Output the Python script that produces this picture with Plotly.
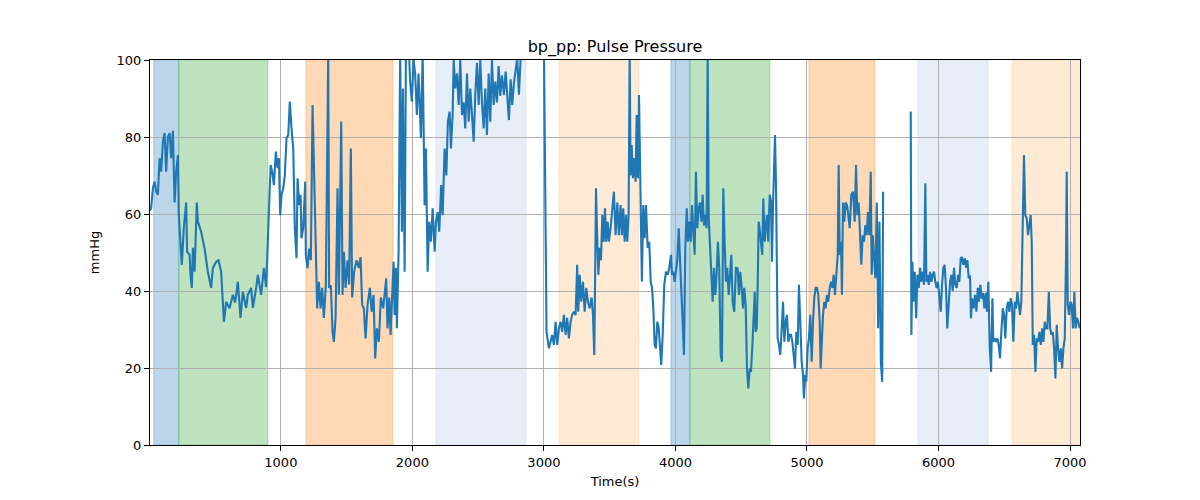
import plotly.graph_objects as go

# ---- data ----
time_s = [5, 14, 27, 40, 52, 65, 78, 90, 103, 116, 128, 141, 154, 166, 179, 192, 204, 217, 224, 234, 247, 262, 280, 287,
          306, 313, 323, 331, 344, 361, 369, 394, 420, 445, 470, 483, 508, 526, 546, 567, 584, 610, 635, 652, 673, 693,
          711, 736, 749, 774, 787, 812, 825, 850, 871, 888,
          899, 909, 922, 934, 947, 962, 975, 985, 995, 1005, 1018, 1030, 1043, 1056, 1068, 1081, 1094, 1106, 1119, 1127,
          1139, 1150, 1157, 1170, 1185, 1190, 1203, 1215, 1228, 1241, 1253, 1264, 1276, 1289, 1302, 1314, 1327, 1342,
          1360, 1367, 1380, 1393, 1403, 1416, 1431, 1441, 1459, 1469, 1479, 1492, 1507, 1519, 1532, 1542, 1557, 1576,
          1593, 1606, 1618, 1631, 1644, 1659, 1677, 1690, 1705, 1717, 1730, 1745, 1760, 1778, 1791,
          1801, 1811, 1824, 1834, 1844, 1857, 1865, 1875, 1882, 1890, 1895, 1907, 1920, 1928, 1941, 1951, 1971, 1983,
          1996, 2009, 2021, 2034, 2047, 2065, 2078, 2093, 2103, 2116, 2128, 2141, 2154, 2169, 2179, 2192, 2204, 2219,
          2230, 2245, 2258, 2270, 2283, 2293, 2306, 2314, 2326, 2339, 2352, 2364, 2377, 2390, 2402, 2415, 2428, 2440,
          2453, 2466, 2478, 2491, 2504, 2516, 2529, 2542, 2554, 2567, 2580, 2592, 2605, 2618, 2630, 2643, 2656, 2668,
          2681, 2696, 2709, 2721, 2734, 2747, 2759, 2772, 2785, 2797, 2810, 2823,
          2900,
          3000, 3005, 3020, 3038, 3051, 3063, 3076, 3089, 3101, 3114, 3127, 3139, 3152, 3165, 3177, 3190, 3203, 3215,
          3228, 3241, 3253, 3261, 3272, 3284, 3297, 3310, 3322, 3335, 3348, 3363, 3373, 3383, 3391, 3396, 3406, 3414,
          3424, 3434, 3444, 3455, 3464, 3474, 3485, 3494, 3507, 3520, 3532, 3545, 3558, 3570,
          3583, 3593, 3603, 3614, 3624, 3634, 3644, 3652, 3659, 3667, 3677, 3687, 3697, 3705, 3715, 3723, 3730, 3740,
          3745, 3755, 3766, 3776, 3789, 3801, 3812, 3822, 3832, 3842, 3852, 3862, 3873, 3882, 3892, 3903, 3915, 3928,
          3941, 3953, 3966, 3974, 3984, 3994, 4004, 4014, 4025, 4034, 4044, 4055, 4065, 4075, 4086, 4095, 4105, 4116,
          4126, 4136, 4146, 4156, 4166, 4177, 4187, 4197, 4207, 4217, 4227, 4237, 4245, 4253, 4262, 4272, 4283, 4293,
          4303, 4313, 4323, 4333, 4344, 4354, 4364, 4374, 4384, 4394, 4405, 4415, 4425, 4435, 4447, 4460,
          4473, 4483, 4493, 4504, 4514, 4523, 4534, 4544, 4554, 4565, 4574, 4584, 4595, 4603, 4610, 4618, 4625, 4633,
          4640, 4650, 4660, 4668, 4679, 4686, 4696, 4706, 4717, 4727, 4734, 4742, 4749, 4757, 4765, 4772, 4777, 4787,
          4797, 4808, 4818, 4828, 4838, 4848, 4858, 4869, 4879, 4889, 4899, 4909, 4919, 4930, 4939, 4949, 4960, 4970,
          4977, 4987, 4995, 5005, 5015, 5025, 5036, 5046, 5056, 5066, 5076, 5086, 5097, 5104, 5114, 5122, 5132, 5142,
          5152, 5162, 5173, 5183, 5193, 5203, 5213, 5223, 5234, 5241, 5249, 5259, 5266, 5274, 5284, 5294, 5304, 5314,
          5325, 5337, 5350,
          5363, 5373, 5383, 5393, 5403, 5413, 5424, 5434, 5444, 5454, 5464, 5474, 5485, 5492, 5500, 5510, 5520, 5531,
          5541, 5551, 5562, 5572, 5579,
          5650,
          5789, 5794, 5802, 5809, 5820, 5830, 5840, 5850, 5860, 5870, 5880, 5890, 5900, 5908, 5916, 5926, 5936, 5946,
          5956, 5966, 5976, 5986, 5996, 6007, 6017, 6027, 6037, 6047, 6057, 6067, 6078, 6088, 6098, 6108, 6118, 6128,
          6139, 6149, 6159, 6169, 6179, 6189, 6200, 6210, 6220, 6230, 6240,
          6247, 6256, 6267, 6278, 6288, 6299, 6308, 6318, 6329, 6339, 6349, 6360, 6369, 6379, 6390, 6400, 6410, 6417,
          6428, 6438, 6448, 6458, 6468, 6478, 6489, 6499, 6508, 6519, 6529, 6539, 6549, 6559, 6569, 6580, 6590, 6600,
          6610, 6620, 6630, 6641, 6650, 6660, 6671, 6681, 6691, 6701, 6709, 6717, 6727, 6737, 6747, 6757, 6767, 6778,
          6788, 6798, 6808, 6818, 6828, 6839, 6849, 6859, 6869, 6879, 6889, 6899, 6909, 6919, 6930, 6940, 6950, 6960,
          6970, 6975, 6983, 6993, 7003, 7013, 7023, 7033, 7043, 7053, 7063, 7074]

pulse_pressure = [61, 61.6, 66.7, 68.4, 65.8, 65, 74.5, 71, 78.8, 81, 71, 80, 81, 74.5, 81.6, 63, 71, 75.3, 59.7, 54.5, 46.8, 56.4, 63, 50.2,
          49.4, 44.2, 40.8, 51.2, 45, 63, 58, 55.4, 51, 45, 40.8, 46, 47.6, 48, 45, 32, 37.2, 35.5, 39, 37, 42.4, 33,
          39.8, 35.6, 39, 40.8, 35.6, 40.8, 44.2, 39, 46, 41,
          52, 65, 72.7, 71, 67.5, 76.2, 71.9, 74.5, 59.7, 65, 66.7, 70, 79.7, 80.5, 89.2, 82.2, 77, 56.3, 48.5, 69.3,
          62.3, 65, 53.7, 56.3, 68.4, 49.4, 45.9, 51, 48, 88.3, 70, 58, 35.5, 42.4, 35.5, 40.8, 33, 41.7,
          101, 40.8, 41.5, 29.4, 26.8, 33, 66.7, 39, 84, 39, 50.2, 40.8, 48, 41.7, 77, 38.3, 45, 48,
          46, 48.8, 36.4, 35.5, 27.7, 36.4, 40.8, 34.6, 39, 22.5, 30.3, 26.8, 38.3, 35.5, 40.8,
          43.3, 30.3, 38.3, 28.6, 38.3, 47.6, 33.8, 46, 30.3, 45, 50.2, 101, 55.4, 92.6, 45, 103, 105, 94.4,
          89.2, 100, 96.5, 85.7, 96.5, 79.7, 102, 62.3, 77, 45, 58, 52.8, 61.5, 50.2, 58, 60.5, 55.4, 67.5,
          59.7, 77, 70, 84, 86.6, 77, 85.7, 100, 92.6, 96.5, 88.3, 100, 85.7, 89, 82.2, 96.5, 84, 92.6,
          84, 78.8, 90.9, 99.3, 88.3, 100, 89, 82.2, 92.6, 80.5, 96.5, 84, 100, 88.3, 94.4, 89, 98.4, 90.7,
          96, 90.9, 97, 92, 84.4, 95, 88.3, 94, 98, 100.5, 91, 100.5,
          None,
          104, 78, 29.4, 25.1, 26.8, 28.6, 26, 32, 26, 30.3, 32, 29.4, 33.8, 28.6, 33, 27.7, 32, 33.8,
          34.6, 33.8, 46.8, 34.6, 44.2, 37.2, 42.4, 34.6, 40.8, 37.2, 35.5, 38.3, 33.8, 23.4, 49.4, 66.7, 52.8, 44.2,
          51.2, 48, 59.7, 52.8, 61.5, 52.8, 58, 52.8, 56.3, 61.5, 65.8, 54.5, 63, 54.5,
          62.3, 54.5, 61.5, 52.8, 59.7, 52.8, 59.7, 102, 70, 77.9, 69.3, 74.5, 68.4, 85.7, 69.3, 90.9, 68.4, 52.8,
          42.4, 62.3, 53.7, 62.3, 51.2, 52.8, 42.4, 40.8, 35.5, 26, 25.1, 32, 30.3, 26.8, 20.8, 28.6, 41.6, 45,
          44.2, 46, 49.4, 44.2, 45, 42.4, 45, 48, 56.3, 46, 40.8, 32, 23.4, 51.2, 61.5, 52.8, 58, 52.8,
          62.3, 55.4, 49.4, 71, 56.3, 61.5, 63, 58, 65, 57, 59.7, 56.3, 102, 59, 51.2, 42.4, 37.2, 46,
          39, 44.2, 52.8, 46, 23.4, 21.6, 66.7, 52.8, 42.4, 46, 39, 44.2, 49.4, 37.2, 34.6, 46,
          45.9, 39, 45, 40.8, 35.5, 40.8, 36.4, 19.9, 14.7, 19.9, 19, 25.1, 32, 39.8, 29.4, 30.3, 40.8, 58,
          56.3, 52.8, 49.4, 64, 52.8, 56.3, 59.7, 52.8, 65, 63.3, 47.6, 62.3, 71, 80.5, 66.7, 40.7, 27.7, 26,
          23.4, 30.3, 37.2, 26.8, 32, 33.8, 26.8, 28.6, 28.6, 26.8, 23.4, 19.9, 29.4, 26, 41.6, 30.3, 21.6, 18.2,
          12.1, 18.2, 16.5, 25.1, 27.7, 33.8, 21.6, 32, 38.3, 40.8, 40.8, 39, 32, 19.9, 27.7, 33.8, 37.2, 35.5,
          39, 37.2, 40.8, 42.4, 40.8, 44.2, 39, 43.3, 49.4, 72.7, 49.4, 52.8, 39, 63, 58, 63, 62.3, 59.7,
          56.3, 65, 65.8,
          58, 72.7, 59.7, 63, 55.4, 46.8, 54.5, 52.8, 57.1, 54.5, 60.5, 54.5, 71, 44.2, 54.5, 48, 43.3, 63,
          30.3, 58, 21.6, 16.4, 65.8,
          None,
          86.6, 28.6, 47.6, 37.2, 45, 32.9, 44.2, 40.8, 46, 42.4, 45, 41.6, 68, 42.4, 44.2, 41.6, 45, 42.4,
          44.2, 45, 42.4, 40.8, 42.4, 39, 34.6, 41.6, 46, 46.8, 40.8, 30.3, 37.2, 42.4, 44.2, 40, 46, 41.6,
          40.8, 44.2, 42.4, 48.5, 48.8, 46.8, 48.5, 46, 48, 43.3, 44,
          32.9, 38.1, 35.5, 39, 34.6, 40.8, 37.2, 41.6, 38, 39.5, 35.5, 39.5, 34.6, 42.4, 25.1, 19, 38.1, 26.8,
          27.7, 26.8, 27.7, 26, 22.5, 29.4, 35.5, 33.8, 27.7, 35.5, 37.2, 34.6, 38.1, 36.4, 26.8, 37.2, 35.5, 39.8,
          36.4, 33.8, 37.2, 56.3, 75.3, 59.7, 58.9, 54.5, 58, 59.7, 52.8, 26, 28.6, 19, 27.7, 26.8, 29.4, 26,
          30.3, 26.8, 32, 30.3, 30.3, 39.8, 30.3, 28.6, 29.4, 25.1, 17.3, 31.2, 25.1, 21.6, 25.1, 19.9, 25.1, 27.7,
          49.4, 71, 36.4, 33.8, 37.2, 36.4, 30.3, 39.8, 30.3, 33, 32, 30.3]

# shaded phases
span_start = [34, 224, 1190, 2179, 3114, 3966, 4110, 5015, 5844, 6559]
span_end = [224, 901, 1852, 2863, 3722, 4110, 4719, 5517, 6377, 7100]
span_rgb = ["31,119,180", "44,160,44", "255,127,14", "174,199,232", "255,187,120",
            "31,119,180", "44,160,44", "255,127,14", "174,199,232", "255,187,120"]

x_ticks = [1000, 2000, 3000, 4000, 5000, 6000, 7000]
y_ticks = [0, 20, 40, 60, 80, 100]

fig = go.Figure()

for s, e, c in zip(span_start, span_end, span_rgb):
    fig.add_shape(type="rect", xref="x", yref="paper", x0=s, x1=e, y0=0, y1=1,
                  fillcolor=f"rgba({c},0.3)", line=dict(color=f"rgba({c},0.3)", width=1),
                  layer="below")

fig.add_trace(go.Scatter(x=time_s, y=pulse_pressure, mode="lines",
                         line=dict(color="#1f77b4", width=2.1), connectgaps=False,
                         showlegend=False))

# the page body adds an 8px offset, compensated in the margins
fig.update_layout(
    width=1200, height=500,
    margin=dict(l=142, r=128, t=52, b=63),
    paper_bgcolor="white", plot_bgcolor="white",
    font=dict(family="DejaVu Sans", size=13, color="black"),
    title=dict(text="bp_pp: Pulse Pressure", x=0.5, xref="paper", xanchor="center",
               y=1 - 38 / 500, yanchor="middle", font=dict(size=16, color="black")),
)

fig.update_xaxes(range=[5, 7076], tickvals=x_ticks, ticks="outside", ticklen=5, tickcolor="black",
                 showline=True, linecolor="black", linewidth=1, mirror=True, automargin=False,
                 showgrid=True, gridcolor="#b0b0b0", gridwidth=1, zeroline=False,
                 tickfont=dict(size=13), title=dict(text="Time(s)", font=dict(size=13), standoff=8))
fig.update_yaxes(range=[0, 100], tickvals=y_ticks, ticks="outside", ticklen=5, tickcolor="black",
                 showline=True, linecolor="black", linewidth=1, mirror=True, automargin=False,
                 showgrid=True, gridcolor="#b0b0b0", gridwidth=1, zeroline=False,
                 tickfont=dict(size=13), title=dict(text="mmHg", font=dict(size=13), standoff=14))

fig.write_html("out.html")
